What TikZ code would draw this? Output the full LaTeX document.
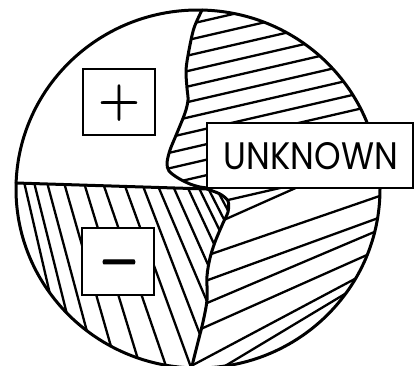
\documentclass[tikz,border=0pt]{standalone}
\usepackage{fontspec}
\newfontfamily\unkfont{Poppins}
\newfontfamily\symfont[FakeBold=1.2]{Latin Modern Roman}
\begin{document}
\begin{tikzpicture}[x=1pt,y=-1pt,
  outline/.style={line width=3pt, line join=round, line cap=round},
  hatch/.style={line width=2.3pt, line cap=round},
  labelbox/.style={draw, line width=1.4pt, fill=white, inner sep=0pt},
  sym/.style={inner sep=0pt, anchor=base}
]
\useasboundingbox (0,0) rectangle (415,365);
\coordinate (C) at (198,189);
% upper-right hatching
\begin{scope}
  \clip (198,189) ellipse [x radius=182pt, y radius=179pt];
  \clip (202,0) -- plot[smooth] coordinates {(202,10) (194,28) (189,50) (186,70) (187,88) (188,100) (185,113) (177,133) (170,150) (167,163) (169,171) (178,178) (190,184) (200,187) (208,188)} -- (420,188) -- (420,0) -- cycle;
  \foreach \y in {24,39.5,...,190} {\draw[hatch] (190,\y) ++(-13:-80) -- ++(-13:320);}
\end{scope}
% lower-left hatching
\begin{scope}
  \clip (198,189) ellipse [x radius=182pt, y radius=179pt];
  \clip (0,182.5) -- (207,189) -- plot[smooth] coordinates {(207,189) (220,194) (228,201) (228,212) (223,223) (215,242) (210,258) (207,276) (207,300) (203,322) (198,342) (193,362) (191,372)} -- (191,400) -- (0,400) -- cycle;
  \foreach \x/\a in {25/77,35/76,48/75,65/74,85/73,104/71,125/70,143/69,158/67,173/66,187/65,198/64,207/63,215/62} {\draw[hatch] (\x,186) ++(\a:-80) -- ++(\a:400);}
\end{scope}
% lower-right hatching
\begin{scope}
  \clip (198,189) ellipse [x radius=182pt, y radius=179pt];
  \clip (208,188) -- plot[smooth] coordinates {(207,189) (220,194) (228,201) (228,212) (223,223) (215,242) (210,258) (207,276) (207,300) (203,322) (198,342) (193,362) (191,372)} -- (191,400) -- (420,400) -- (420,188) -- cycle;
  \foreach \x/\y/\a in {228/200/-13,226/219/-24,217/252/-19,208/280/-20,207/303/-23,203/328/-24,208/357/-28,230/363/-31} {\draw[hatch] (\x,\y) ++(\a:-80) -- ++(\a:400);}
\end{scope}
% outlines
\draw[outline] (C) ellipse [x radius=182pt, y radius=179pt];
\draw[outline] plot[smooth] coordinates {(202,10) (194,28) (189,50) (186,70) (187,88) (188,100) (185,113) (177,133) (170,150) (167,163) (169,171) (178,178) (190,184) (200,187) (208,188)};
\draw[outline] (16,183) -- (207,189);
\draw[outline] plot[smooth] coordinates {(207,189) (220,194) (228,201) (228,212) (223,223) (215,242) (210,258) (207,276) (207,300) (203,322) (198,342) (193,362) (191,372)};
% label boxes
\node[labelbox, minimum width=72pt, minimum height=66pt] (plusbox) at (119,102) {};
\node[labelbox, minimum width=72pt, minimum height=67pt] (minusbox) at (118,261.5) {};
\node[labelbox, minimum width=206pt, minimum height=65pt] (unkbox) at (310,155.5) {};
\node[sym] (plussym) at (119,116.8) {\symfont\fontsize{57}{57}\selectfont +};
\node[sym] (minussym) at (119,289) {\scalebox{0.9}[1.9]{\symfont\fontsize{57}{57}\selectfont −}};
\node[inner sep=0pt] (unk) at (311,156.5) {\resizebox{174pt}{27pt}{\unkfont UNKNOWN}};
\end{tikzpicture}
\end{document}
